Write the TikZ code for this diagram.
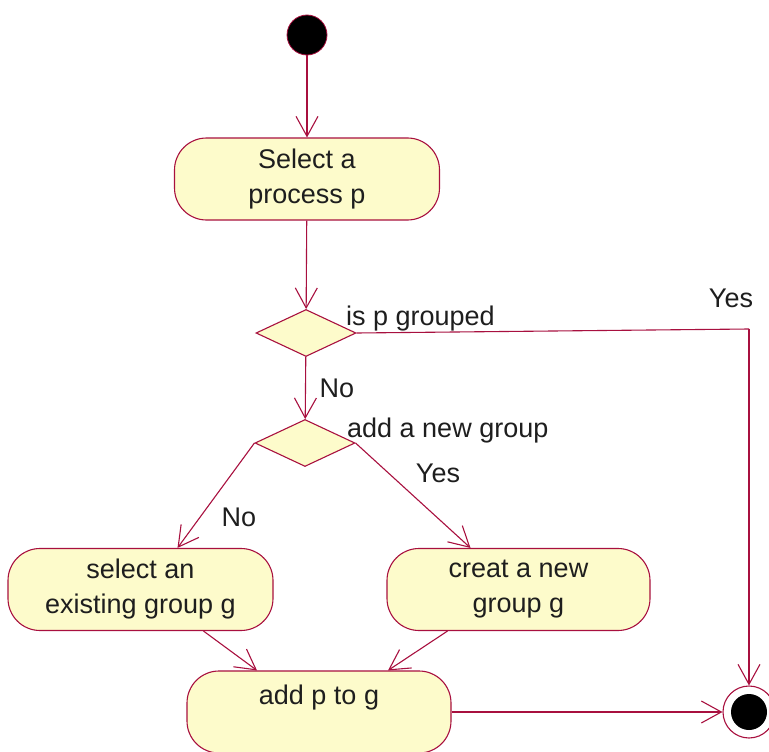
\documentclass[tikz,border=0pt]{standalone}
\usepackage{fontspec}
\setmainfont{Liberation Sans}
\usetikzlibrary{shapes.geometric,arrows.meta}
\definecolor{lc}{HTML}{A8103F}
\definecolor{boxfill}{HTML}{FDFBCB}
\definecolor{txt}{HTML}{1E1E1E}
\tikzset{
  lbl/.style={font=\fontsize{27}{35}\selectfont, text=txt, inner sep=0pt},
  activity/.style={draw=lc, line width=1.1pt, fill=boxfill, rectangle,
    rounded corners=32pt, minimum height=82pt, inner sep=0pt,
    align=center, font=\fontsize{27}{35}\selectfont, text=txt},
  choice/.style={draw=lc, line width=1.1pt, fill=boxfill, diamond,
    minimum width=100pt, minimum height=47pt, inner sep=0pt},
  flow/.style={draw=lc, line width=1.1pt,
    -{Straight Barb[length=20pt,width=22pt,line width=1.1pt]}},
  plain/.style={draw=lc, line width=1.1pt},
}
\begin{document}
\begin{tikzpicture}[x=1pt,y=-1pt]
  \useasboundingbox (0,0) rectangle (769,752);
  \clip (0,0) rectangle (769,752);

  % initial and final states
  \node (start) [circle, fill=black, draw=lc, line width=0.8pt,
    minimum size=40pt, inner sep=0pt] at (307,35) {};
  \node (final) [circle, draw=lc, line width=1.1pt, fill=white,
    minimum size=52pt, inner sep=0pt,
    path picture={\fill[black] (path picture bounding box.center) circle (18pt);}]
    at (749,712) {};

  % activities
  \node (sel1) [activity, minimum width=265pt] at (307,179) {Select a\\process p};
  \node (exist) [activity, minimum width=265pt] at (140.5,589.5) {select an\\existing group g};
  \node (create) [activity, minimum width=263pt] at (518.5,589.5) {creat a new\\group g};
  \node (addp) [activity, minimum width=264pt] at (319,712) {add p to g\\\mbox{}};

  % decisions
  \node (d1) [choice] at (306,333) {};
  \node (d2) [choice] at (305,443) {};

  % labels
  \node (l1) [lbl, anchor=west] at (346,319) {is p grouped};
  \node (l2) [lbl] at (731,298) {Yes};
  \node (l3) [lbl] at (337,388) {No};
  \node (l4) [lbl, anchor=west] at (347,431) {add a new group};
  \node (l5) [lbl] at (438,473) {Yes};
  \node (l6) [lbl] at (239,517) {No};

  \coordinate (corner) at (749,329);

  % transitions
  \draw[flow] (start) -- (sel1);
  \draw[flow] (sel1) -- (d1);
  \draw[plain] (d1.east) -- (corner);
  \draw[flow] (corner) -- (final.north);
  \draw[flow] (d1) -- (d2);
  \draw[flow] (d2.west) -- ([xshift=37pt]exist.north);
  \draw[flow] (d2.east) -- ([xshift=-48pt]create.north);
  \draw[flow] ([xshift=63pt]exist.south) -- ([xshift=-62pt]addp.north);
  \draw[flow] ([xshift=-71pt]create.south) -- ([xshift=69pt]addp.north);
  \draw[flow] (addp.east) -- (final.west);
\end{tikzpicture}
\end{document}
